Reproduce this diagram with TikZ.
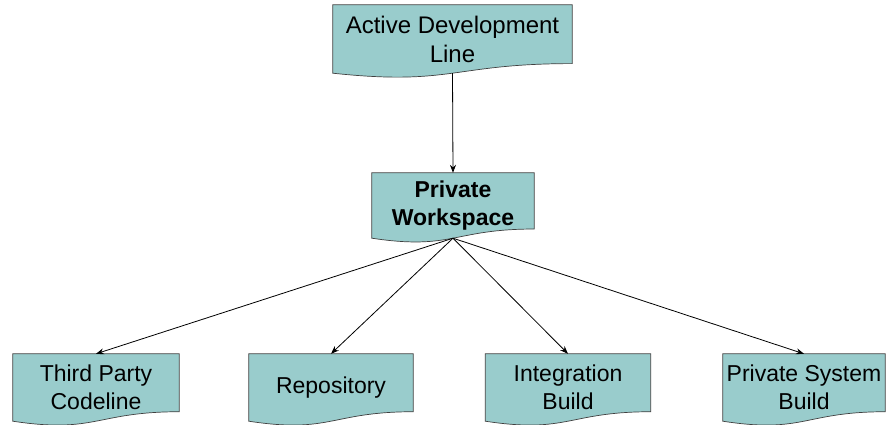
\documentclass[tikz,border=0pt]{standalone}
\usepackage{fontspec}
\setmainfont{Liberation Sans}
\usetikzlibrary{calc,arrows.meta,backgrounds}

% Flowchart "document" outline drawn behind a named node: flat top,
% straight sides and a wavy bottom whose middle point is the node's south anchor.
\newcommand\docoutline[1]{%
  \path[docpaint] let \p1=(#1.north west), \p2=(#1.south east),
      \n1={\y1-\y2}, \n2={(\x1+\x2)/2} in
    (\x1,\y1) -- (\x2,\y1) -- (\x2,{\y1-0.8596*\n1})
    .. controls (\n2,{\y1-0.8596*\n1}) and (\n2,{\y1-1.1865*\n1}) ..
    (\x1,\y2) -- cycle;}

\begin{document}
\begin{tikzpicture}[x=1pt,y=-1pt,
  docpaint/.style={fill=docteal,draw=black!75,line width=0.7pt},
  docnode/.style={rectangle,inner sep=0pt,align=center,
    font=\fontsize{23}{28}\selectfont},
  link/.style={draw=black,line width=0.8pt,-{Stealth[length=8pt,width=6pt]}}]
\definecolor{docteal}{RGB}{153,204,204}
\useasboundingbox (0,0) rectangle (889,424);

\node[docnode,minimum width=239pt,minimum height=68pt,font=\fontsize{24}{29}\selectfont] (adl) at (452.5,39) {Active Development\\Line};
\node[docnode,minimum width=162pt,minimum height=65pt,font=\fontsize{23}{28}\selectfont\bfseries] (pw) at (453,205.5) {Private\\Workspace};
\node[docnode,minimum width=166pt,minimum height=67pt] (tpc) at (96,387.5) {Third Party\\Codeline};
\node[docnode,minimum width=164pt,minimum height=67pt] (repo) at (331,387.5) {Repository};
\node[docnode,minimum width=165pt,minimum height=67pt] (ib) at (568,387.5) {Integration\\Build};
\node[docnode,minimum width=162pt,minimum height=67pt] (psb) at (804,387.5) {Private System\\Build};

\begin{pgfonlayer}{background}
  \docoutline{adl}
  \docoutline{pw}
  \docoutline{tpc}
  \docoutline{repo}
  \docoutline{ib}
  \docoutline{psb}
\end{pgfonlayer}

\draw[link] (adl.south) -- (pw.north);
\draw[link] (pw.south) -- (tpc.north);
\draw[link] (pw.south) -- (repo.north);
\draw[link] (pw.south) -- (ib.north);
\draw[link] (pw.south) -- (psb.north);
\end{tikzpicture}
\end{document}
